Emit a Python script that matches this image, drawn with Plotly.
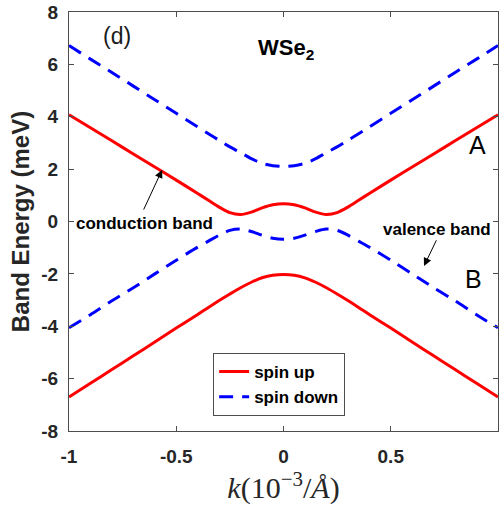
import plotly.graph_objects as go

# wave vector samples (10^-3 / Å)
k = [-1.0, -0.9, -0.8, -0.7, -0.6, -0.5, -0.4, -0.35, -0.3, -0.25, -0.2, -0.15, -0.1, -0.05,
     0.0, 0.05, 0.1, 0.15, 0.2, 0.25, 0.3, 0.35, 0.4, 0.5, 0.6, 0.7, 0.8, 0.9, 1.0]

# band energies (meV)
up_conduction = [4.08, 3.58, 3.08, 2.58, 2.08, 1.58, 1.07, 0.81, 0.55, 0.34, 0.27, 0.36, 0.52, 0.64,
                 0.68, 0.64, 0.52, 0.36, 0.27, 0.34, 0.55, 0.81, 1.07, 1.58, 2.08, 2.58, 3.08, 3.58, 4.08]
up_valence = [-6.70, -6.18, -5.65, -5.13, -4.60, -4.07, -3.55, -3.28, -3.02, -2.77, -2.53, -2.32, -2.15, -2.05,
              -2.02, -2.05, -2.15, -2.32, -2.53, -2.77, -3.02, -3.28, -3.55, -4.07, -4.60, -5.13, -5.65, -6.18, -6.70]
down_conduction = [6.72, 6.20, 5.69, 5.17, 4.65, 4.13, 3.61, 3.35, 3.10, 2.85, 2.63, 2.40, 2.22, 2.13,
                   2.10, 2.13, 2.22, 2.40, 2.63, 2.85, 3.10, 3.35, 3.61, 4.13, 4.65, 5.17, 5.69, 6.20, 6.72]
down_valence = [-4.06, -3.56, -3.03, -2.53, -2.00, -1.48, -0.98, -0.75, -0.52, -0.34, -0.29, -0.38, -0.52, -0.64,
                -0.68, -0.64, -0.52, -0.38, -0.29, -0.34, -0.52, -0.75, -0.98, -1.48, -2.00, -2.53, -3.03, -3.56, -4.06]

x_ticks = [-1, -0.5, 0, 0.5, 1]
x_tick_labels = ["-1", "-0.5", "0", "0.5", "1"]
y_ticks = [-8, -6, -4, -2, 0, 2, 4, 6, 8]
y_tick_labels = ["-8", "-6", "-4", "-2", "0", "2", "4", "6", "8"]

RED = "#ff0000"
BLUE = "#0000ff"
SANS = "Arial, Liberation Sans, sans-serif"
DASH = "14px,9px"

fig = go.Figure()
fig.add_trace(go.Scatter(x=k, y=up_conduction, mode="lines", name="spin up",
                         line=dict(color=RED, width=3, shape="spline", smoothing=0.8)))
fig.add_trace(go.Scatter(x=k, y=down_conduction, mode="lines", name="spin down",
                         line=dict(color=BLUE, width=3, dash=DASH, shape="spline", smoothing=0.8)))
fig.add_trace(go.Scatter(x=k, y=up_valence, mode="lines", showlegend=False,
                         line=dict(color=RED, width=3, shape="spline", smoothing=0.8)))
fig.add_trace(go.Scatter(x=k, y=down_valence, mode="lines", showlegend=False,
                         line=dict(color=BLUE, width=3, dash=DASH, shape="spline", smoothing=0.8)))

axis_common = dict(
    showline=True, linecolor="#4d4d4d", linewidth=1, mirror="ticks",
    ticks="inside", ticklen=5, tickcolor="#4d4d4d", tickwidth=1,
    showgrid=False, zeroline=False,
    tickfont=dict(family=SANS, size=19, color="#262626", weight="bold"),
)

fig.update_xaxes(range=[-1, 1], tickvals=x_ticks, ticktext=x_tick_labels,
                 ticklabelstandoff=8,
                 title=dict(text="<i>k</i>(10<sup>−3</sup>/<i>Å</i>)",
                            font=dict(family="Liberation Serif, Times New Roman, serif", size=30,
                                      color="#262626"),
                            standoff=6),
                 **axis_common)
fig.update_yaxes(range=[-8, 8], tickvals=y_ticks, ticktext=y_tick_labels,
                 ticklabelstandoff=6,
                 title=dict(text="Band Energy (meV)",
                            font=dict(family=SANS, size=24, color="#262626", weight="bold"),
                            standoff=4),
                 **axis_common)

annotations = [
    dict(x=0.112, y=0.943, xref="paper", yref="paper", text="(d)", showarrow=False,
         xanchor="center", yanchor="middle", font=dict(family=SANS, size=23, color="#1a1a1a")),
    dict(x=0.01, y=6.6, text="WSe<sub>2</sub>", showarrow=False,
         xanchor="center", yanchor="middle",
         font=dict(family=SANS, size=22, color="#000000", weight="bold")),
    dict(x=0.903, y=2.92, text="A", showarrow=False,
         font=dict(family=SANS, size=25, color="#000000")),
    dict(x=0.884, y=-2.19, text="B", showarrow=False,
         font=dict(family=SANS, size=25, color="#000000")),
    dict(x=-0.646, y=-0.06, text="conduction band", showarrow=False,
         font=dict(family=SANS, size=17, color="#000000", weight="bold")),
    dict(x=0.716, y=-0.29, text="valence band", showarrow=False,
         font=dict(family=SANS, size=17, color="#000000", weight="bold")),
    # arrows pointing at the bands
    dict(x=-0.566, y=1.97, ax=-0.655, ay=0.40, xref="x", yref="y", axref="x", ayref="y",
         text="", showarrow=True, arrowhead=2, arrowsize=1.6, arrowwidth=1, arrowcolor="#000000"),
    dict(x=0.655, y=-1.70, ax=0.716, ay=-0.66, xref="x", yref="y", axref="x", ayref="y",
         text="", showarrow=True, arrowhead=2, arrowsize=1.6, arrowwidth=1, arrowcolor="#000000"),
]

fig.update_layout(
    width=500, height=512,
    margin=dict(l=69, r=2, t=12, b=81),
    paper_bgcolor="white", plot_bgcolor="white",
    annotations=annotations,
    showlegend=True,
    legend=dict(x=0.336, y=0.186, xanchor="left", yanchor="top",
                bgcolor="white", bordercolor="#4d4d4d", borderwidth=1,
                font=dict(family=SANS, size=17, color="#000000", weight="bold"),
                itemwidth=30, tracegroupgap=0),
)

fig.write_html("out.html")
